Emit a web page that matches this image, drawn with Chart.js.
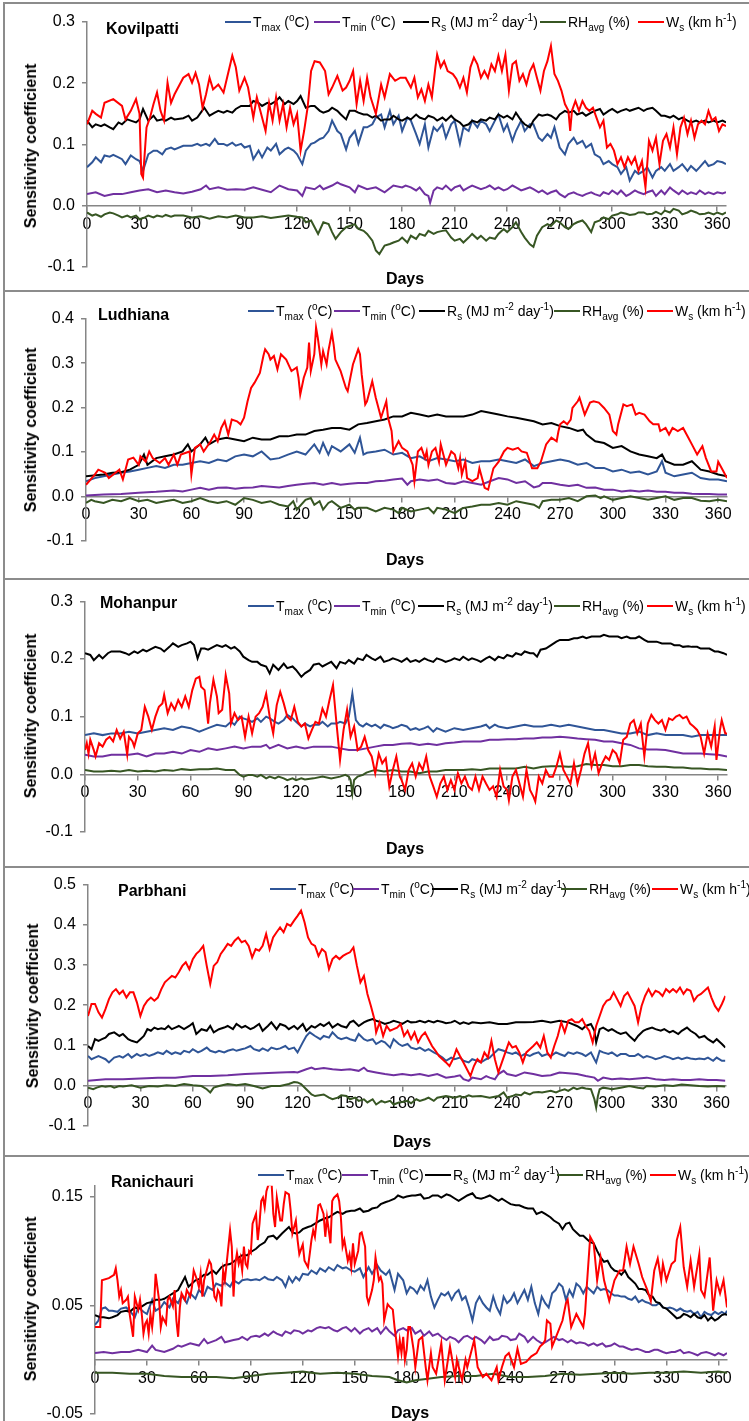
<!DOCTYPE html>
<html>
<head>
<meta charset="utf-8">
<script src="https://cdn.jsdelivr.net/npm/chart.js@4.4.1/dist/chart.umd.min.js"></script>
<style>
body{margin:0;background:#fff;width:749px;height:1421px;overflow:hidden;position:relative;font-family:"Liberation Sans",Arial,sans-serif;color:#000}
.box{position:absolute;left:3px;width:780px;border-left:2px solid #8c8c8c;border-top:2px solid #8c8c8c;box-sizing:border-box}
canvas{position:absolute;left:0}
.txt{position:absolute;white-space:nowrap;line-height:1}
.stn{font-weight:bold;font-size:16px;transform:translateY(-50%)}
.days{font-weight:bold;font-size:16px;transform:translate(-50%,-50%)}
.ytl{font-weight:bold;font-size:16px;transform:translate(-50%,-50%) rotate(-90deg)}
.leg{position:absolute;display:flex;align-items:center;font-size:14px;white-space:nowrap;transform:translateY(-50%);line-height:1}
.leg .sw{display:inline-block;width:26px;height:0;border-top:2.5px solid;margin-right:2px}
sub,sup{font-size:10px;line-height:0}
</style>
</head>
<body>
<script>
// ---------- data (day of year -> sensitivity coefficient) ----------

const xTicks = [0,30,60,90,120,150,180,210,240,270,300,330,360];
const seriesLabels = ['T<sub>max</sub> (<sup>o</sup>C)', 'T<sub>min</sub> (<sup>o</sup>C)', 'R<sub>s</sub> (MJ m<sup>-2</sup> day<sup>-1</sup>)', 'RH<sub>avg</sub> (%)', 'W<sub>s</sub> (km h<sup>-1</sup>)'];
const stations = ['Kovilpatti', 'Ludhiana', 'Mohanpur', 'Parbhani', 'Ranichauri'];

// Kovilpatti
const kovYTicks = [-0.1,0,0.1,0.2,0.3];
const kovTmaxDays = [0,3,5,8,10,13,15,18,20,22,25,28,30,32,35,38,40,43,45,48,50,55,60,63,65,68,70,73,75,78,80,83,85,88,90,93,95,98,100,103,105,108,110,113,115,118,120,123,125,128,130,133,135,138,140,143,145,148,150,153,155,158,160,163,165,168,170,173,175,178,180,183,185,188,190,193,195,198,200,203,205,208,210,213,215,218,220,223,225,228,230,233,235,238,240,243,245,248,250,253,255,258,260,263,265,267,270,273,275,278,280,283,285,288,290,293,295,298,300,303,305,308,310,313,315,318,320,323,325,328,330,333,335,338,340,343,345,348,350,353,355,358,360,363,365];
const kovTmax = [.063,.071,.079,.071,.082,.080,.083,.079,.076,.068,.082,.076,.073,.057,.084,.090,.090,.084,.092,.095,.092,.098,.098,.101,.098,.101,.098,.109,.101,.101,.098,.103,.098,.101,.095,.098,.076,.090,.079,.095,.090,.101,.084,.092,.095,.090,.084,.068,.090,.101,.103,.109,.111,.122,.139,.122,.117,.092,.111,.122,.101,.128,.128,.133,.144,.149,.128,.155,.133,.147,.122,.144,.139,.117,.101,.133,.095,.128,.122,.133,.111,.133,.139,.101,.128,.122,.139,.128,.139,.133,.122,.139,.149,.122,.133,.106,.122,.139,.122,.133,.133,.111,.106,.117,.111,.128,.095,.084,.101,.111,.101,.106,.095,.101,.084,.079,.068,.073,.068,.063,.052,.063,.041,.057,.052,.057,.063,.046,.057,.063,.057,.068,.057,.063,.068,.057,.065,.057,.063,.073,.065,.068,.073,.071,.068];
const kovTminDays = [0,5,10,15,20,25,30,35,40,45,50,55,60,65,68,70,75,80,85,90,95,100,105,110,115,120,123,125,130,133,135,140,143,145,150,153,155,160,165,170,175,180,182,185,188,190,193,195,196,198,200,203,205,208,210,213,215,218,220,225,228,230,233,235,238,240,243,245,248,250,253,255,258,260,263,265,268,270,273,275,278,280,283,285,288,290,293,295,298,300,303,305,308,310,313,315,318,320,323,325,328,330,333,335,338,340,343,345,348,350,353,355,358,360,363,365];
const kovTmin = [.019,.022,.016,.019,.019,.022,.025,.027,.022,.025,.022,.020,.023,.027,.033,.027,.030,.026,.027,.026,.030,.026,.022,.033,.027,.025,.016,.030,.027,.033,.027,.033,.038,.035,.030,.022,.033,.027,.030,.022,.033,.030,.033,.030,.025,.030,.019,.016,.005,.025,.030,.027,.033,.025,.030,.033,.025,.030,.033,.027,.030,.033,.027,.030,.025,.027,.033,.030,.025,.027,.030,.027,.022,.025,.019,.022,.025,.019,.014,.019,.022,.019,.016,.019,.022,.019,.016,.022,.019,.025,.019,.025,.016,.019,.025,.022,.019,.022,.025,.016,.025,.019,.030,.025,.019,.025,.019,.022,.019,.025,.019,.022,.019,.022,.020,.022];
const kovRsDays = [0,3,5,8,10,13,15,18,20,23,25,28,30,32,35,38,40,43,45,48,50,55,58,60,63,65,67,70,73,75,78,80,83,85,88,90,93,95,98,100,103,105,108,110,113,115,118,120,122,125,128,130,133,135,138,140,143,145,148,150,153,155,158,160,163,165,168,170,173,175,178,180,183,185,188,190,193,195,198,200,203,205,208,210,213,215,218,220,223,225,228,230,233,235,238,240,243,245,248,250,253,255,258,260,263,265,268,270,273,275,278,280,283,285,288,290,293,295,298,300,303,305,308,310,313,315,318,320,323,325,328,330,333,335,338,340,343,345,348,350,353,355,358,360,363,365];
const kovRs = [.139,.128,.133,.130,.133,.128,.125,.136,.133,.141,.139,.136,.141,.158,.139,.147,.139,.141,.139,.144,.141,.143,.147,.139,.144,.152,.160,.147,.152,.155,.152,.155,.152,.158,.163,.163,.163,.171,.168,.163,.168,.166,.171,.177,.166,.171,.166,.171,.179,.160,.163,.163,.155,.152,.155,.160,.155,.149,.141,.155,.155,.152,.149,.149,.144,.147,.139,.141,.141,.147,.141,.139,.144,.141,.149,.144,.141,.147,.144,.139,.144,.139,.147,.141,.136,.130,.133,.139,.136,.141,.139,.144,.141,.149,.144,.147,.141,.152,.139,.133,.128,.139,.149,.147,.149,.147,.141,.149,.155,.152,.155,.149,.152,.147,.152,.155,.158,.149,.155,.158,.152,.155,.158,.155,.158,.160,.155,.158,.160,.155,.147,.147,.144,.147,.141,.144,.139,.136,.139,.136,.139,.136,.139,.136,.139,.136];
const kovRhDays = [0,3,5,8,10,13,15,18,20,23,25,28,30,33,35,38,40,43,45,48,50,55,60,65,70,75,80,85,90,95,100,105,110,115,120,123,125,128,130,132,135,138,140,142,145,148,150,153,155,158,160,163,165,167,170,173,175,178,180,183,185,188,190,193,195,198,200,203,205,208,210,213,215,218,220,223,225,228,230,233,235,238,240,243,245,248,250,253,255,257,260,263,265,268,270,273,275,278,280,283,285,288,290,293,295,298,300,303,305,308,310,313,315,318,320,323,325,328,330,333,335,338,340,343,345,348,350,353,355,358,360,363,365];
const kovRh = [-.011,-.016,-.014,-.018,-.014,-.011,-.0125,-.016,-.019,-.016,-.019,-.016,-.022,-.019,-.016,-.019,-.016,-.018,-.015,-.018,-.016,-.016,-.019,-.017,-.021,-.017,-.019,-.016,-.019,-.019,-.017,-.020,-.018,-.016,-.018,-.019,-.027,-.024,-.035,-.046,-.027,-.030,-.043,-.054,-.043,-.035,-.033,-.030,-.038,-.041,-.046,-.057,-.073,-.079,-.065,-.0625,-.060,-.057,-.052,-.060,-.049,-.054,-.046,-.049,-.041,-.046,-.043,-.041,-.040,-.052,-.057,-.054,-.060,-.052,-.046,-.054,-.049,-.057,-.052,-.054,-.046,-.038,-.043,-.035,-.027,-.043,-.052,-.063,-.067,-.049,-.035,-.030,-.033,-.024,-.027,-.035,-.038,-.030,-.027,-.024,-.030,-.043,-.027,-.024,-.019,-.022,-.016,-.014,-.011,-.013,-.015,-.014,-.011,-.011,-.014,-.013,-.010,-.014,-.008,-.011,-.005,-.008,-.014,-.011,-.008,-.011,-.014,-.013,-.011,-.014,-.011,-.014,-.011];
const kovWsDays = [0,3,5,8,10,15,20,22,25,28,30,31,32,34,36,38,40,42,44,46,48,50,55,58,60,62,64,66,68,70,72,75,78,80,83,85,87,90,92,95,97,100,102,104,106,108,110,112,114,116,118,120,122,124,126,128,130,133,136,138,140,143,146,148,150,152,154,156,158,160,162,165,168,170,173,176,179,182,185,187,189,191,193,195,197,199,200,202,204,206,209,211,213,215,217,219,221,223,225,227,229,231,233,235,237,239,241,243,245,247,249,251,253,255,257,259,261,263,265,267,269,271,273,275,276,277,279,281,283,285,287,289,291,293,295,297,299,301,303,305,307,309,311,313,315,317,319,321,323,325,327,329,331,333,335,337,339,341,343,345,347,349,351,353,355,357,359,361,363,365];
const kovWs = [.133,.155,.150,.144,.168,.174,.163,.141,.155,.174,.150,.052,.046,.128,.144,.166,.185,.155,.139,.201,.168,.182,.209,.215,.201,.217,.198,.160,.182,.209,.190,.198,.185,.209,.245,.226,.188,.209,.193,.144,.177,.144,.122,.168,.139,.177,.139,.166,.128,.160,.133,.150,.090,.122,.160,.220,.236,.234,.220,.182,.193,.212,.188,.193,.204,.220,.166,.204,.171,.209,.177,.150,.198,.177,.215,.204,.209,.209,.193,.209,.177,.190,.171,.198,.177,.226,.247,.226,.236,.220,.215,.207,.193,.209,.185,.226,.242,.231,.209,.220,.209,.231,.220,.245,.220,.247,.188,.231,.236,.204,.215,.198,.220,.231,.209,.188,.220,.236,.261,.215,.204,.188,.166,.155,.122,.155,.171,.155,.171,.160,.155,.160,.144,.128,.139,.095,.101,.090,.068,.079,.063,.079,.068,.079,.057,.073,.030,.106,.090,.111,.068,.106,.117,.095,.128,.084,.128,.144,.117,.139,.111,.133,.139,.133,.155,.139,.144,.122,.133,.130];

// Ludhiana
const ludYTicks = [-0.1,0,0.1,0.2,0.3,0.4];
const ludTmaxDays = [0,5,10,15,20,25,30,35,40,45,50,55,60,65,70,75,80,85,90,95,100,105,110,115,120,125,130,133,135,138,140,145,150,153,156,158,160,165,170,175,180,185,190,195,200,205,210,215,220,225,230,235,240,245,250,255,260,265,270,275,280,285,290,295,300,305,310,315,320,325,328,330,335,340,345,350,355,360,365];
const ludTmax = [.034,.041,.045,.049,.053,.056,.060,.064,.068,.064,.071,.071,.075,.079,.075,.083,.079,.090,.094,.090,.101,.083,.086,.094,.101,.094,.117,.098,.120,.094,.113,.101,.117,.098,.132,.094,.098,.101,.105,.094,.098,.086,.090,.079,.086,.083,.079,.083,.075,.079,.079,.083,.079,.075,.083,.068,.075,.079,.083,.079,.071,.075,.064,.064,.056,.060,.053,.056,.049,.056,.079,.053,.045,.049,.053,.041,.038,.038,.034];
const ludTminDays = [0,10,20,30,40,50,55,60,65,70,75,80,85,90,95,100,110,115,120,125,130,135,140,145,150,155,160,165,170,175,180,183,185,190,195,200,205,210,215,220,225,230,235,240,245,250,255,258,260,265,270,275,280,285,290,295,300,305,310,315,320,325,330,335,340,345,350,355,360,365];
const ludTmin = [.002,.004,.005,.008,.010,.013,.011,.015,.019,.015,.019,.020,.017,.019,.020,.023,.020,.023,.026,.028,.030,.026,.030,.026,.028,.030,.030,.034,.035,.038,.040,.026,.034,.038,.035,.038,.030,.028,.034,.030,.026,.034,.041,.038,.030,.034,.020,.023,.030,.030,.026,.023,.026,.019,.020,.015,.015,.011,.013,.011,.013,.010,.010,.008,.008,.006,.005,.005,.004,.004];
const ludRsDays = [0,10,15,20,25,30,33,35,40,45,50,55,58,60,65,68,70,75,80,85,90,95,100,105,110,115,120,125,130,135,140,145,150,155,160,165,170,175,180,185,190,195,200,205,210,215,220,225,230,235,240,245,250,255,260,265,270,275,280,283,285,290,295,300,305,310,315,320,325,328,330,335,340,345,350,355,360,365];
const ludRs = [.045,.049,.053,.054,.060,.071,.094,.071,.086,.090,.094,.101,.117,.101,.117,.132,.117,.128,.132,.128,.124,.132,.128,.128,.135,.135,.139,.139,.147,.150,.154,.154,.150,.162,.165,.169,.173,.180,.180,.188,.184,.180,.184,.180,.180,.180,.184,.192,.188,.184,.180,.177,.173,.169,.162,.165,.158,.154,.147,.150,.139,.124,.120,.109,.113,.101,.094,.090,.086,.094,.079,.071,.071,.079,.060,.056,.049,.045];
const ludRhDays = [0,3,5,10,15,20,25,30,35,40,45,50,55,60,65,70,75,80,85,90,95,100,105,110,115,118,120,125,128,130,133,135,138,140,145,150,153,155,160,165,170,175,178,180,185,190,195,198,200,205,210,213,215,220,225,230,235,240,245,250,255,258,260,265,270,275,280,285,290,293,295,300,305,310,315,320,325,330,335,340,345,350,355,360,365];
const ludRh = [-.015,-.008,-.011,-.015,-.008,-.011,-.004,-.011,-.008,-.015,-.011,-.008,-.015,-.011,-.004,-.011,-.015,-.011,-.019,-.004,-.008,-.015,-.011,-.019,-.023,-.011,-.030,-.008,-.004,-.019,-.011,-.030,-.015,-.011,-.026,-.019,-.030,-.026,-.026,-.034,-.026,-.030,-.038,-.026,-.034,-.030,-.026,-.038,-.026,-.030,-.038,-.030,-.026,-.023,-.019,-.019,-.015,-.019,-.011,-.015,-.019,-.026,-.011,-.008,-.008,-.004,-.011,.000,.002,-.004,.000,-.008,-.004,.000,-.004,-.008,-.004,.000,-.008,-.004,-.004,-.010,-.011,-.008,-.011];
const ludWsDays = [0,5,7,11,13,19,21,24,27,30,31,34,36,38,42,45,47,50,52,54,59,60,62,65,67,71,73,75,77,79,81,83,86,88,90,92,94,96,99,101,102,104,105,107,109,111,114,117,120,121,122,124,126,127,128,130,131,132,134,135,137,138,140,141,142,145,148,149,152,155,156,157,159,160,163,165,168,171,172,174,175,178,180,183,186,187,189,191,193,194,195,197,199,201,202,205,208,210,212,213,214,216,217,220,223,224,227,229,232,235,238,240,243,246,248,251,254,257,259,262,265,268,269,270,272,274,276,277,280,281,284,287,289,292,295,298,300,302,303,306,308,311,313,315,318,321,323,326,327,330,332,334,337,340,343,345,348,351,353,356,359,360,363,365];
const ludWs = [.026,.049,.060,.053,.041,.060,.038,.083,.087,.071,.090,.078,.101,.086,.075,.086,.071,.094,.071,.094,.101,.049,.109,.117,.101,.124,.139,.124,.154,.169,.139,.173,.169,.162,.177,.214,.244,.256,.278,.316,.331,.320,.308,.316,.286,.320,.308,.282,.290,.267,.229,.267,.290,.346,.282,.320,.380,.357,.297,.327,.297,.327,.368,.342,.308,.282,.244,.237,.297,.331,.320,.274,.207,.214,.259,.222,.177,.214,.177,.147,.101,.124,.109,.101,.071,.034,.101,.109,.086,.101,.071,.101,.109,.078,.117,.071,.101,.094,.063,.086,.049,.078,.041,.034,.041,.063,.019,.015,.063,.078,.101,.109,.105,.109,.101,.098,.063,.063,.078,.117,.132,.124,.146,.162,.169,.162,.173,.199,.214,.222,.184,.211,.214,.211,.199,.184,.147,.139,.162,.207,.203,.207,.184,.188,.184,.169,.162,.162,.147,.154,.139,.154,.147,.154,.132,.117,.094,.113,.086,.056,.056,.078,.056,.041];

// Mohanpur
const mohYTicks = [-0.1,0,0.1,0.2,0.3];
const mohTmaxDays = [0,5,10,15,20,25,30,35,40,45,50,55,60,65,70,75,80,83,85,88,90,93,95,98,100,103,105,108,110,113,115,118,120,123,125,128,130,133,135,138,140,143,145,148,150,152,154,156,158,160,163,165,168,170,173,175,178,180,183,185,188,190,193,195,198,200,205,210,215,220,225,228,230,233,235,240,245,250,255,260,265,270,275,280,285,290,295,300,305,310,315,320,325,330,335,340,345,350,355,360,365];
const mohTmax = [.068,.071,.068,.071,.071,.074,.071,.074,.077,.080,.077,.083,.080,.074,.080,.086,.083,.091,.086,.100,.097,.094,.091,.097,.091,.100,.097,.091,.088,.094,.103,.097,.091,.083,.088,.083,.086,.086,.091,.083,.088,.088,.091,.088,.100,.140,.094,.086,.083,.088,.083,.086,.080,.086,.083,.080,.083,.086,.083,.077,.080,.077,.080,.083,.074,.080,.074,.080,.077,.080,.083,.086,.080,.086,.083,.080,.083,.086,.083,.083,.086,.083,.086,.083,.080,.077,.077,.074,.071,.071,.074,.068,.071,.068,.068,.068,.065,.068,.068,.068,.068];
const mohTminDays = [0,5,10,15,20,25,30,35,40,45,50,55,60,65,70,75,80,85,90,95,100,103,105,110,115,120,125,130,135,140,145,150,155,160,165,170,175,180,185,190,195,200,205,210,215,220,225,230,235,240,245,250,255,260,265,270,275,280,285,290,295,300,305,310,315,320,325,330,335,340,345,350,355,360,365];
const mohTmin = [.034,.031,.031,.034,.034,.034,.036,.031,.036,.036,.039,.036,.042,.039,.045,.042,.045,.048,.045,.048,.048,.051,.045,.051,.045,.048,.045,.048,.048,.048,.045,.042,.042,.045,.048,.051,.051,.053,.054,.051,.053,.051,.054,.055,.057,.057,.057,.060,.060,.061,.061,.062,.062,.064,.064,.065,.064,.062,.061,.060,.057,.057,.054,.051,.045,.043,.043,.042,.039,.036,.036,.036,.035,.034,.031];
const mohRsDays = [0,3,5,8,10,13,15,18,20,23,25,28,30,33,35,38,40,43,45,48,50,53,55,58,60,62,64,66,68,70,73,75,78,80,83,85,88,90,93,95,98,100,103,105,107,110,113,115,118,120,123,125,128,130,133,135,138,140,143,145,148,150,153,155,158,160,163,165,168,170,173,175,178,180,183,185,188,190,193,195,198,200,203,205,208,210,213,215,218,220,223,225,228,230,233,235,238,240,243,245,248,250,253,255,257,259,262,265,268,270,273,275,278,280,283,285,288,290,293,295,298,300,303,305,308,310,313,315,318,320,323,325,328,330,333,335,338,340,343,345,348,350,353,355,358,360,363,365];
const mohRs = [.210,.207,.198,.207,.201,.210,.213,.213,.213,.210,.207,.213,.210,.216,.213,.218,.221,.218,.213,.221,.227,.221,.224,.227,.230,.224,.201,.218,.218,.216,.221,.224,.221,.224,.218,.221,.213,.204,.198,.195,.195,.190,.187,.175,.190,.181,.192,.184,.187,.181,.169,.175,.181,.190,.192,.187,.192,.195,.184,.195,.192,.198,.192,.201,.198,.207,.201,.198,.204,.195,.198,.201,.198,.195,.201,.195,.198,.195,.201,.198,.195,.201,.198,.195,.198,.201,.198,.204,.198,.201,.198,.195,.201,.204,.198,.204,.201,.207,.204,.210,.207,.213,.210,.210,.204,.216,.218,.224,.230,.233,.233,.233,.236,.236,.239,.236,.239,.239,.239,.242,.239,.239,.239,.236,.239,.236,.236,.239,.233,.230,.230,.230,.227,.227,.227,.224,.224,.221,.222,.221,.221,.218,.218,.218,.213,.213,.210,.207];
const mohRhDays = [0,5,10,15,20,25,30,35,40,45,50,55,60,65,70,75,80,85,88,90,93,95,98,100,103,105,108,110,113,115,118,120,123,125,130,135,140,145,148,150,151,152,153,155,158,160,163,165,170,175,180,185,190,195,200,205,210,215,220,225,230,235,240,245,250,255,260,265,270,275,280,285,290,295,300,305,310,315,320,325,330,335,340,345,350,355,360,365];
const mohRh = [.0075,.005,.005,.006,.005,.0075,.005,.006,.005,.0075,.006,.009,.0075,.009,.009,.010,.0075,.0075,-.001,-.004,-.001,-.001,-.004,-.001,-.007,-.004,-.007,-.004,-.007,-.010,-.007,-.010,-.007,-.009,-.007,-.004,-.007,-.004,-.001,-.004,-.010,-.033,-.010,-.004,-.001,.003,.006,.0075,.005,.0075,.005,.005,.002,.005,.005,.0075,.0075,.0075,.009,.0075,.010,.010,.010,.010,.013,.010,.013,.014,.014,.013,.014,.018,.016,.016,.014,.014,.016,.016,.014,.013,.013,.012,.012,.010,.010,.009,.009,.0075];
const mohWsDays = [0,1,2,3,5,6,8,10,12,14,16,18,20,22,24,25,27,28,30,32,34,36,38,40,42,44,45,47,49,51,53,55,57,59,61,63,65,66,68,70,71,73,75,76,78,80,82,83,85,87,89,91,93,95,97,99,101,103,105,107,109,111,113,115,117,119,121,123,125,127,129,131,133,135,137,139,141,143,145,147,149,151,153,155,157,159,161,163,165,167,169,171,173,175,177,179,180,182,184,186,188,190,192,194,196,198,200,202,204,206,208,210,212,214,216,218,220,222,224,226,228,230,232,234,236,238,240,241,243,245,247,249,251,253,255,256,258,260,262,264,266,268,270,272,274,276,278,280,282,284,286,288,290,292,294,296,298,300,302,304,306,308,310,312,314,316,318,320,322,324,326,328,330,332,334,336,338,340,342,344,346,348,350,352,354,356,358,359,361,362,364,365];
const mohWs = [.042,.054,.036,.060,.042,.031,.054,.048,.060,.065,.057,.077,.062,.074,.034,.065,.057,.048,.071,.077,.117,.100,.077,.100,.117,.123,.138,.106,.123,.112,.129,.117,.135,.117,.146,.166,.169,.152,.146,.088,.123,.164,.135,.106,.112,.172,.140,.088,.106,.094,.100,.065,.100,.071,.100,.106,.117,.140,.100,.071,.120,.143,.123,.100,.094,.117,.091,.083,.088,.062,.077,.091,.088,.114,.100,.129,.155,.088,.025,.077,.112,.065,.083,.042,.048,.065,.042,.031,.002,.036,.019,.028,-.021,.0075,.031,-.004,-.010,-.027,.0075,.019,-.004,.019,.0075,.031,-.004,-.021,-.039,-.016,-.004,-.027,-.010,-.027,.002,-.016,-.004,-.021,-.027,-.004,-.027,-.004,-.016,-.027,-.021,-.039,.0075,-.021,-.027,-.045,-.004,.0075,-.016,-.039,.0075,-.027,-.039,-.047,-.004,-.016,.0075,-.004,-.004,.013,.036,.0075,-.004,-.016,.019,-.016,.0075,.036,.054,.013,.036,.002,.019,.031,.025,.042,.036,.019,.060,.065,.088,.094,.071,.088,.031,.088,.103,.094,.088,.094,.077,.097,.094,.100,.103,.097,.100,.088,.083,.077,.065,.036,.071,.048,.083,.025,.077,.094,.071,.071];

// Parbhani
const parYTicks = [-0.1,0,0.1,0.2,0.3,0.4,0.5];
const parTmaxDays = [0,2,4,6,8,10,12,15,18,20,23,25,28,30,33,35,38,40,43,45,48,50,53,55,58,60,63,65,68,70,73,75,78,80,83,85,88,90,93,95,98,100,103,105,108,110,113,115,118,120,123,125,127,130,133,135,138,140,143,145,148,150,153,155,158,160,163,165,168,170,173,175,178,180,183,185,188,190,193,195,198,200,203,205,208,210,213,215,218,220,223,225,228,230,233,235,238,240,243,245,248,250,253,255,258,260,263,265,268,270,273,275,278,280,283,285,288,290,291,293,295,298,300,303,305,308,310,313,315,318,320,323,325,328,330,333,335,338,340,343,345,348,350,353,355,358,360,363,365];
const parTmax = [.073,.065,.069,.073,.069,.065,.057,.069,.073,.069,.078,.069,.078,.073,.078,.073,.078,.082,.078,.086,.078,.082,.078,.086,.082,.090,.082,.086,.094,.086,.082,.086,.082,.086,.090,.086,.090,.092,.098,.090,.086,.092,.086,.094,.090,.092,.098,.090,.094,.082,.107,.123,.132,.123,.115,.123,.119,.132,.119,.115,.119,.115,.111,.128,.115,.111,.115,.103,.111,.107,.094,.115,.103,.098,.103,.094,.090,.094,.086,.090,.082,.078,.069,.061,.069,.065,.069,.061,.057,.065,.061,.057,.065,.069,.082,.090,.086,.082,.078,.082,.073,.078,.073,.078,.082,.073,.078,.073,.082,.078,.073,.082,.078,.082,.078,.073,.082,.065,.057,.086,.082,.078,.082,.073,.078,.078,.073,.073,.078,.069,.073,.069,.065,.069,.073,.069,.065,.069,.065,.069,.067,.065,.067,.065,.069,.061,.069,.061,.061];
const parTminDays = [0,10,20,30,40,50,60,70,80,90,100,110,118,120,125,128,130,135,140,145,150,155,158,160,165,170,175,180,185,190,195,200,205,210,213,215,218,220,225,228,230,233,235,238,240,245,250,255,260,265,270,275,280,285,290,292,295,300,305,310,315,320,325,330,335,340,345,350,355,360,365];
const parTmin = [.011,.015,.015,.017,.019,.019,.023,.023,.025,.028,.030,.032,.033,.032,.040,.044,.040,.043,.040,.038,.040,.036,.044,.036,.032,.028,.025,.028,.025,.028,.023,.028,.019,.022,.025,.015,.011,.019,.015,.023,.019,.015,.028,.036,.028,.023,.032,.028,.023,.025,.032,.030,.028,.023,.019,.011,.019,.015,.017,.015,.017,.019,.015,.013,.015,.013,.013,.015,.013,.013,.011];
const parRsDays = [0,2,4,6,8,10,12,15,18,20,23,25,28,30,32,34,36,38,40,42,44,46,48,50,52,55,58,60,62,65,68,70,72,75,78,80,83,85,88,90,93,95,98,100,103,105,108,110,113,115,118,120,123,125,128,130,133,135,138,140,143,145,148,150,152,155,158,160,163,165,168,170,173,175,178,180,183,185,188,190,193,195,198,200,203,205,208,210,213,215,218,220,225,230,235,240,245,250,255,260,265,270,275,280,283,285,288,290,291,293,295,298,300,303,305,308,310,313,315,318,320,323,325,328,330,333,335,338,340,343,345,348,350,353,355,358,360,363,365];
const parRs = [.098,.090,.115,.111,.115,.119,.128,.132,.123,.128,.115,.111,.107,.115,.123,.140,.136,.144,.140,.142,.140,.148,.140,.144,.148,.140,.148,.155,.128,.140,.136,.148,.132,.140,.144,.148,.140,.153,.144,.148,.140,.144,.153,.136,.148,.157,.140,.153,.148,.140,.148,.140,.153,.136,.148,.144,.153,.148,.157,.144,.153,.148,.144,.157,.161,.148,.157,.161,.165,.161,.157,.153,.157,.161,.157,.153,.161,.157,.158,.161,.157,.161,.157,.161,.158,.155,.157,.161,.153,.157,.153,.157,.155,.157,.153,.153,.157,.157,.158,.161,.157,.161,.157,.148,.140,.148,.153,.136,.107,.140,.144,.136,.140,.132,.128,.132,.123,.111,.123,.136,.140,.144,.140,.136,.140,.132,.136,.128,.136,.144,.136,.128,.119,.123,.115,.107,.115,.103,.094];
const parRhDays = [0,3,5,8,10,13,15,18,20,25,30,35,40,45,50,55,60,65,68,70,72,75,80,85,90,95,100,105,110,115,118,120,122,125,128,130,135,138,140,143,145,148,150,153,155,158,160,163,165,168,170,173,175,178,180,183,185,188,190,193,195,198,200,205,210,213,215,218,220,225,230,235,238,240,243,245,248,250,253,255,258,260,265,268,270,273,275,278,280,283,285,288,290,291,292,293,295,298,300,305,310,315,318,320,325,330,335,340,345,350,355,360,365];
const parRh = [-.006,-.010,-.006,-.002,-.004,-.002,-.006,-.002,-.003,.000,-.006,-.002,-.003,.000,-.002,.003,.000,-.002,-.010,-.018,-.006,-.002,.003,.000,.003,-.002,-.008,-.002,-.002,.003,.008,.007,.003,-.010,-.023,-.027,-.023,-.031,-.035,-.031,-.025,-.027,-.035,-.031,-.039,-.035,-.043,-.035,-.048,-.039,-.043,-.039,-.048,-.043,-.042,-.039,-.045,-.035,-.039,-.035,-.031,-.039,-.031,-.027,-.031,-.027,-.031,-.025,-.028,-.027,-.031,-.027,-.018,-.031,-.027,-.023,-.025,-.018,-.023,-.018,-.017,-.018,-.014,-.018,-.014,-.010,-.014,-.006,-.010,-.006,-.008,-.010,-.035,-.056,-.027,-.010,-.006,-.008,-.010,-.006,-.002,-.006,-.008,-.002,-.003,.000,-.002,.002,.000,-.002,-.003,-.002,-.003];
const parWsDays = [0,2,4,6,8,10,12,14,16,18,20,22,24,26,28,30,32,34,36,38,40,42,44,46,48,50,52,54,56,58,60,62,64,66,68,70,72,74,76,78,80,82,84,86,88,90,92,94,96,98,100,102,104,106,108,110,112,114,116,118,120,122,124,126,128,130,132,134,136,138,140,142,144,146,148,150,152,154,156,158,160,162,164,165,167,169,171,173,175,177,179,181,183,185,187,189,191,193,195,197,199,201,203,205,207,209,211,213,215,217,219,221,223,225,227,229,231,233,235,237,239,241,243,245,247,249,251,253,255,257,259,261,263,265,267,269,271,273,275,277,279,281,283,285,287,289,291,293,295,297,299,301,303,305,307,309,311,313,315,317,319,321,323,325,327,329,331,333,335,337,339,341,343,345,347,349,351,353,355,357,359,361,363,365];
const parWs = [.173,.203,.203,.182,.169,.190,.215,.232,.240,.228,.236,.219,.232,.232,.207,.173,.198,.211,.219,.211,.219,.240,.257,.265,.273,.269,.282,.298,.307,.290,.315,.328,.336,.348,.298,.253,.298,.307,.328,.340,.353,.348,.361,.369,.357,.361,.348,.319,.340,.336,.348,.378,.340,.369,.382,.394,.382,.403,.398,.411,.423,.436,.407,.369,.353,.348,.323,.340,.332,.290,.315,.323,.315,.323,.328,.332,.344,.298,.257,.273,.228,.198,.165,.132,.157,.123,.148,.136,.140,.144,.153,.123,.136,.115,.132,.107,.123,.132,.115,.098,.086,.073,.065,.057,.048,.065,.090,.073,.057,.040,.023,.048,.065,.057,.082,.069,.111,.065,.032,.057,.082,.107,.094,.098,.082,.057,.082,.090,.098,.107,.094,.123,.082,.069,.098,.123,.157,.132,.161,.165,.157,.157,.165,.148,.136,.107,.148,.173,.198,.211,.215,.232,.215,.198,.223,.232,.215,.198,.157,.198,.223,.240,.223,.236,.232,.223,.240,.232,.240,.232,.244,.228,.240,.236,.211,.223,.228,.236,.244,.219,.198,.186,.203,.223];

// Ranichauri
const ranYTicks = [-0.05,0.05,0.15];
const ranTmaxDays = [0,2,4,6,8,10,13,15,18,20,23,25,28,30,33,35,38,40,43,45,48,50,53,55,58,60,63,65,68,70,73,75,78,80,83,85,88,90,93,95,98,100,103,105,108,110,112,114,116,118,120,123,125,128,130,133,135,138,140,143,145,148,150,153,155,158,160,163,165,168,170,173,175,178,180,182,184,186,188,190,192,194,196,198,200,202,204,206,208,210,212,214,216,218,220,222,224,226,228,230,232,234,236,238,240,242,244,246,248,250,252,254,256,258,260,262,264,266,268,270,272,274,276,278,280,282,284,286,288,290,292,294,296,298,300,302,304,306,308,310,312,314,316,318,320,322,324,326,328,330,332,334,336,338,340,342,344,346,348,350,352,354,356,358,360,362,364,365];
const ranTmax = [.032,.036,.047,.048,.045,.045,.044,.047,.048,.045,.039,.048,.044,.042,.055,.045,.048,.053,.048,.056,.052,.059,.052,.061,.056,.064,.059,.067,.064,.070,.068,.071,.067,.073,.070,.073,.074,.073,.074,.073,.076,.074,.073,.076,.073,.067,.076,.071,.076,.073,.079,.078,.082,.079,.084,.081,.085,.082,.087,.084,.085,.082,.081,.084,.076,.085,.079,.087,.082,.078,.082,.064,.079,.073,.061,.067,.065,.061,.068,.064,.073,.058,.048,.055,.061,.059,.062,.055,.061,.064,.055,.058,.048,.036,.052,.058,.052,.048,.045,.058,.048,.042,.058,.052,.055,.061,.052,.058,.064,.055,.067,.052,.042,.058,.052,.048,.061,.064,.070,.067,.055,.064,.058,.070,.067,.061,.067,.064,.061,.067,.064,.065,.064,.061,.059,.059,.058,.058,.056,.055,.058,.053,.055,.053,.052,.050,.050,.052,.048,.047,.048,.047,.045,.047,.045,.044,.045,.042,.044,.039,.044,.042,.041,.044,.042,.044,.042,.045];
const ranTminDays = [0,5,10,15,20,25,30,33,35,40,45,48,50,55,60,63,65,70,73,75,80,83,85,88,90,93,95,98,100,103,105,108,110,113,115,118,120,123,125,128,130,133,135,138,140,143,145,148,150,153,155,158,160,163,165,168,170,173,175,178,180,183,185,188,190,193,195,198,200,203,205,208,210,213,215,218,220,223,225,228,230,233,235,238,240,243,245,248,250,253,255,258,260,263,265,268,270,273,275,278,280,283,285,288,290,293,295,298,300,303,305,308,310,313,315,318,320,323,325,328,330,333,335,338,340,343,345,348,350,353,355,358,360,363,365];
const ranTmin = [.006,.007,.006,.007,.007,.009,.007,.013,.009,.007,.010,.013,.012,.015,.013,.019,.015,.018,.021,.016,.018,.019,.021,.018,.021,.022,.021,.024,.022,.026,.024,.022,.026,.024,.027,.026,.024,.027,.026,.029,.030,.029,.030,.027,.026,.029,.030,.026,.029,.024,.027,.029,.026,.029,.024,.030,.026,.022,.027,.029,.027,.029,.024,.027,.022,.026,.022,.024,.021,.018,.021,.019,.016,.021,.022,.019,.021,.018,.015,.021,.018,.019,.022,.021,.018,.019,.024,.021,.016,.021,.018,.015,.016,.019,.021,.018,.019,.016,.018,.015,.016,.015,.013,.015,.013,.015,.012,.013,.015,.012,.012,.010,.009,.010,.009,.007,.007,.009,.009,.007,.006,.007,.007,.009,.006,.007,.006,.004,.006,.007,.006,.004,.006,.004,.006];
const ranRsDays = [0,3,5,8,10,13,15,18,20,23,25,28,30,33,35,38,40,43,45,48,50,52,54,56,58,60,63,65,68,70,73,75,78,80,83,85,88,90,93,95,98,100,103,105,108,110,112,114,116,118,120,123,125,128,130,133,135,138,140,143,145,148,150,153,155,158,160,163,165,168,170,173,175,178,180,183,185,188,190,193,195,198,200,203,205,208,210,213,215,218,220,223,225,228,230,233,235,238,240,243,245,248,250,253,255,258,260,263,265,268,270,272,274,276,278,280,282,284,286,288,290,292,294,296,298,300,302,304,306,308,310,312,314,316,318,320,322,324,326,328,330,332,334,336,338,340,342,344,346,348,350,352,354,356,358,360,362,364,365];
const ranRs = [.041,.039,.039,.038,.039,.041,.044,.045,.044,.048,.047,.050,.052,.053,.055,.055,.056,.059,.061,.064,.070,.076,.067,.070,.073,.074,.078,.078,.082,.079,.085,.087,.088,.090,.094,.096,.096,.099,.102,.105,.108,.113,.114,.111,.116,.119,.122,.117,.116,.117,.120,.122,.123,.126,.128,.130,.131,.134,.136,.134,.136,.137,.137,.139,.136,.137,.139,.140,.143,.145,.146,.148,.151,.149,.150,.151,.151,.152,.148,.149,.151,.151,.149,.152,.151,.148,.146,.149,.151,.153,.149,.148,.149,.151,.149,.146,.148,.145,.143,.142,.142,.140,.139,.139,.134,.136,.134,.131,.128,.125,.120,.125,.126,.120,.117,.114,.114,.111,.108,.107,.100,.094,.090,.091,.085,.082,.081,.078,.082,.076,.073,.070,.065,.065,.064,.059,.058,.053,.052,.048,.047,.044,.041,.038,.039,.042,.041,.039,.042,.039,.038,.041,.036,.039,.036,.038,.041,.042,.041];
const ranRhDays = [0,10,20,30,40,50,60,70,80,90,100,110,120,125,130,140,150,160,170,175,180,185,190,200,210,220,230,240,250,260,270,280,290,300,310,320,330,340,350,360,365];
const ranRh = [-.012,-.012,-.013,-.013,-.015,-.016,-.016,-.016,-.017,-.015,-.013,-.012,-.011,-.012,-.013,-.012,-.013,-.015,-.016,-.019,-.021,-.019,-.018,-.016,-.015,-.015,-.013,-.016,-.016,-.015,-.013,-.014,-.013,-.012,-.013,-.012,-.012,-.011,-.012,-.011,-.012];
const ranWsDays = [0,3,4,8,11,12,13,14,15,16,18,19,20,22,23,25,26,27,28,29,30,31,32,33,34,35,37,38,39,41,42,43,45,46,47,48,49,50,52,53,55,56,57,59,60,61,62,63,65,66,67,69,70,71,72,73,74,75,76,78,79,80,81,82,83,84,85,86,87,88,89,90,91,93,94,95,96,97,98,99,100,102,103,104,105,107,108,109,110,112,113,114,116,117,118,120,121,123,124,125,126,127,129,130,132,133,134,136,137,138,140,141,142,143,144,146,147,148,149,150,152,153,154,156,157,158,160,161,162,164,165,166,167,169,170,172,173,174,175,176,177,178,179,180,181,182,184,185,187,189,191,192,194,195,197,200,202,205,208,209,212,214,215,219,221,224,226,229,232,233,235,237,239,242,244,246,249,252,255,257,259,260,261,263,264,267,270,272,273,275,278,282,283,284,286,288,290,292,294,297,300,303,305,307,309,311,314,316,319,321,323,325,327,328,330,333,335,336,338,340,342,344,346,349,350,352,355,357,359,361,363,365];
const ranWs = [.030,.030,.073,.075,.078,.084,.073,.058,.064,.052,.055,.058,.042,.021,.058,.046,.055,.042,.024,.033,.036,.024,.042,.030,.046,.079,.055,.030,.039,.033,.055,.058,.049,.064,.036,.021,.048,.061,.055,.064,.058,.067,.082,.073,.067,.079,.058,.073,.085,.091,.088,.058,.055,.064,.061,.049,.082,.073,.088,.119,.104,.058,.088,.098,.088,.094,.082,.104,.088,.085,.100,.098,.125,.134,.110,.125,.146,.149,.140,.155,.160,.162,.134,.122,.149,.128,.128,.143,.154,.152,.137,.116,.128,.110,.097,.106,.091,.085,.097,.110,.119,.113,.142,.143,.134,.113,.131,.107,.146,.149,.152,.146,.131,.104,.110,.091,.097,.085,.107,.088,.100,.116,.117,.104,.058,.052,.064,.073,.094,.073,.076,.070,.036,.051,.049,.046,.030,.018,.003,.018,.006,.021,-.0005,.009,.030,.030,.009,-.007,.018,.021,-.007,-.019,.006,-.007,-.013,.015,-.019,.012,-.016,.000,-.019,.000,-.007,.018,-.007,-.016,-.013,-.019,-.007,-.019,-.007,.003,.006,-.007,.010,-.004,-.002,.003,.006,.012,.015,.018,.036,.033,.012,.024,.036,.052,.055,.030,.042,.030,.042,.067,.113,.107,.073,.094,.073,.054,.073,.082,.082,.104,.088,.104,.088,.076,.064,.054,.082,.093,.073,.088,.073,.088,.091,.110,.122,.085,.067,.091,.067,.097,.064,.058,.094,.045,.073,.061,.073,.048];

// ---------- drawing ----------

const FONT = '"Liberation Sans", Arial, Helvetica, sans-serif';
Chart.defaults.font.family = FONT;
Chart.defaults.color = '#000';

const seriesColors = ['#2f5597', '#7030a0', '#000000', '#375623', '#ff0000'];
const drawOrder = [4, 3, 2, 1, 0]; // wind speed on top, as in the original
const axisGrey = '#868686';

// page geometry of each panel (pixels)
const panels = [
  { top: 0, h: 290, axisX: 87, padR: 23, padT: 22, padB: 23, yMin: -0.1, yMax: 0.3, yTicks: kovYTicks, dec: 1,
    series: [[kovTmaxDays, kovTmax], [kovTminDays, kovTmin], [kovRsDays, kovRs], [kovRhDays, kovRh], [kovWsDays, kovWs]],
    stn: [106, 29], days: [405, 279], ytl: [31, 146], legY: 22, legX: [225, 314, 403, 540, 638], boxTop: 2, boxBottom: 290 },
  { top: 290, h: 288, axisX: 86, padR: 22, padT: 28.7, padB: 37.3, yMin: -0.1, yMax: 0.4, yTicks: ludYTicks, dec: 1,
    series: [[ludTmaxDays, ludTmax], [ludTminDays, ludTmin], [ludRsDays, ludRs], [ludRhDays, ludRh], [ludWsDays, ludWs]],
    stn: [98, 315], days: [405, 560], ytl: [31, 430], legY: 311, legX: [248, 334, 419, 554, 647], boxTop: 290, boxBottom: 578 },
  { top: 578, h: 288, axisX: 85, padR: 22, padT: 23.3, padB: 34, yMin: -0.1, yMax: 0.3, yTicks: mohYTicks, dec: 1,
    series: [[mohTmaxDays, mohTmax], [mohTminDays, mohTmin], [mohRsDays, mohRs], [mohRhDays, mohRh], [mohWsDays, mohWs]],
    stn: [100, 603], days: [405, 849], ytl: [31, 716], legY: 606, legX: [248, 334, 418, 554, 647], boxTop: 578, boxBottom: 866 },
  { top: 866, h: 289, axisX: 88, padR: 23.6, padT: 19, padB: 29.7, yMin: -0.1, yMax: 0.5, yTicks: parYTicks, dec: 1,
    series: [[parTmaxDays, parTmax], [parTminDays, parTmin], [parRsDays, parRs], [parRhDays, parRh], [parWsDays, parWs]],
    stn: [118, 891], days: [412, 1142], ytl: [33, 1006], legY: 889, legX: [270, 353, 432, 561, 652], boxTop: 866, boxBottom: 1155 },
  { top: 1155, h: 290, axisX: 95, padR: 22, padT: 30.7, padB: 31, yMin: -0.05, yMax: 0.16, yTicks: ranYTicks, dec: 2,
    series: [[ranTmaxDays, ranTmax], [ranTminDays, ranTmin], [ranRsDays, ranRs], [ranRhDays, ranRh], [ranWsDays, ranWs]],
    stn: [111, 1182], days: [410, 1413], ytl: [31, 1299], legY: 1175, legX: [258, 342, 425, 557, 650], boxTop: 1155, boxBottom: 1430 }
];

function toPoints(days, vals) {
  const n = Math.min(days.length, vals.length);
  if (days.length !== vals.length) console.warn('length mismatch', days.length, vals.length);
  const out = [];
  for (let i = 0; i < n; i++) out.push({ x: days[i], y: vals[i] });
  return out;
}

function addText(cls, html, x, y) {
  const d = document.createElement('div');
  d.className = 'txt ' + cls;
  d.innerHTML = html;
  d.style.left = x + 'px';
  d.style.top = y + 'px';
  document.body.appendChild(d);
}

panels.forEach((p, pi) => {
  // frame
  const box = document.createElement('div');
  box.className = 'box';
  box.style.top = p.boxTop + 'px';
  box.style.height = (p.boxBottom - p.boxTop) + 'px';
  document.body.appendChild(box);

  const cv = document.createElement('canvas');
  cv.width = 749;
  cv.height = p.h;
  cv.style.top = p.top + 'px';
  document.body.appendChild(cv);

  new Chart(cv, {
    type: 'line',
    data: {
      datasets: p.series.map((s, i) => ({
        label: stations[pi] + ' ' + i,
        data: toPoints(s[0], s[1]),
        borderColor: seriesColors[i],
        backgroundColor: seriesColors[i],
        borderWidth: 2,
        pointRadius: 0,
        tension: 0,
        fill: false,
        order: drawOrder[i]
      }))
    },
    options: {
      responsive: false,
      animation: false,
      devicePixelRatio: 1,
      layout: { padding: { left: 0, right: p.padR, top: p.padT, bottom: p.padB } },
      plugins: { legend: { display: false }, tooltip: { enabled: false } },
      scales: {
        x: {
          type: 'linear', min: 0, max: 365,
          position: { y: 0 },
          afterBuildTicks: s => { s.ticks = xTicks.map(v => ({ value: v })); },
          grid: { drawOnChartArea: false, drawTicks: true, tickLength: 5, color: axisGrey, lineWidth: 1.5 },
          border: { display: true, color: axisGrey, width: 1.5 },
          ticks: { font: { size: 16 }, padding: 4, maxRotation: 0, autoSkip: false, color: '#000' }
        },
        y: {
          min: p.yMin, max: p.yMax,
          afterBuildTicks: s => { s.ticks = p.yTicks.map(v => ({ value: v })); },
          afterFit: s => { s.width = p.axisX; },
          grid: { drawOnChartArea: false, drawTicks: true, tickLength: 5, color: axisGrey, lineWidth: 1.5 },
          border: { display: true, color: axisGrey, width: 1.5 },
          ticks: { font: { size: 16 }, padding: 7, color: '#000', callback: v => Number(v).toFixed(p.dec) }
        }
      }
    }
  });

  // texts
  addText('stn', stations[pi], p.stn[0], p.stn[1]);
  addText('days', 'Days', p.days[0], p.days[1]);
  addText('ytl', 'Sensitivity coefficient', p.ytl[0], p.ytl[1]);

  seriesLabels.forEach((lab, i) => {
    const it = document.createElement('div');
    it.className = 'leg';
    it.style.left = p.legX[i] + 'px';
    it.style.top = p.legY + 'px';
    it.innerHTML = '<span class="sw" style="border-color:' + seriesColors[i] + '"></span><span>' + lab + '</span>';
    document.body.appendChild(it);
  });
});
</script>
</body>
</html>
